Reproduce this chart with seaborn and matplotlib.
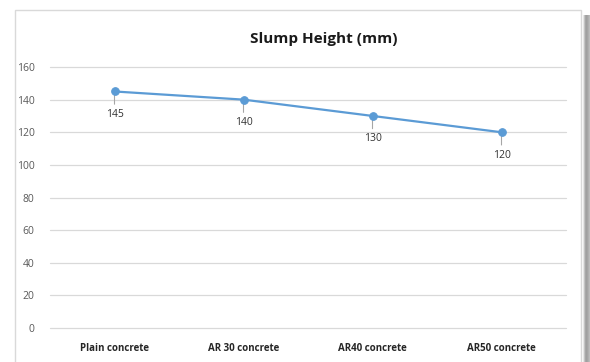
import matplotlib
matplotlib.use("Agg")
import matplotlib.pyplot as plt
import seaborn as sns
import pandas as pd
from matplotlib.patches import Rectangle

# Slump test results
mixes = ["Plain concrete", "AR 30 concrete", "AR40 concrete", "AR50 concrete"]
slump_mm = [145, 140, 130, 120]
y_ticks = [0, 20, 40, 60, 80, 100, 120, 140, 160]

df = pd.DataFrame({"mix": mixes, "slump": slump_mm})

sns.set_theme(style="white")
plt.rcParams["font.family"] = ["Open Sans", "DejaVu Sans"]

fig = plt.figure(figsize=(5.9, 3.62), dpi=100)
fig.patch.set_facecolor("white")

# Chart frame with a soft drop shadow on the right
shadow_cols = ["#e6e6e6", "#c4c4c4", "#a8a8a8", "#a0a0a0", "#a6a6a6", "#b0b0b0", "#bcbcbc"]
for i, c in enumerate(shadow_cols):
    fig.patches.append(Rectangle(((583 + i) / 590, 0), 1 / 590, 1 - 15 / 362,
                                 transform=fig.transFigure, facecolor=c,
                                 edgecolor="none", zorder=0))
fig.patches.append(Rectangle((15 / 590, -0.05), 566 / 590, 1.05 - 10 / 362,
                             transform=fig.transFigure, facecolor="white",
                             edgecolor="#d9d9d9", linewidth=1.0, zorder=1))

ax = fig.add_axes([50 / 590, 1 - 328 / 362, 516 / 590, 261 / 362])
ax.set_facecolor("none")
ax.set_zorder(2)

sns.lineplot(data=df, x="mix", y="slump", ax=ax, color="#5b9bd5",
             linewidth=1.6, marker="o", markersize=5.5,
             markeredgecolor="#5b9bd5", sort=False, zorder=4)

ax.set_xlim(-0.5, len(mixes) - 0.5)
ax.set_ylim(0, 160)
ax.set_yticks(y_ticks)
ax.yaxis.grid(True, color="#d9d9d9", linewidth=0.9)
for gl in ax.get_ygridlines():
    gl.set_clip_on(False)
ax.xaxis.grid(False)
for s in ax.spines.values():
    s.set_visible(False)
ax.set_xlabel("")
ax.set_ylabel("")
ax.tick_params(axis="y", length=0, pad=11, labelsize=7.5, labelcolor="#595959")
ax.tick_params(axis="x", length=0, pad=11, labelsize=7.0, labelcolor="#262626")
ax.set_yticklabels([str(v) for v in y_ticks])
ax.set_xticks(range(len(mixes)))
ax.set_xticklabels(mixes, fontweight="bold")

# Data labels with short leader lines
for i, v in enumerate(slump_mm):
    ax.annotate(str(v), xy=(i, v), xytext=(0, -16.5), textcoords="offset points",
                ha="center", va="center", fontsize=7.5, color="#333333",
                arrowprops=dict(arrowstyle="-", color="#a6a6a6", lw=0.8,
                                shrinkA=1, shrinkB=2), zorder=3)

fig.text(324 / 590, 1 - 39 / 362, "Slump Height (mm)", ha="center", va="center",
         fontsize=11, fontweight="bold", color="#1a1a1a", zorder=3)

fig.savefig("out.png", dpi=100)
